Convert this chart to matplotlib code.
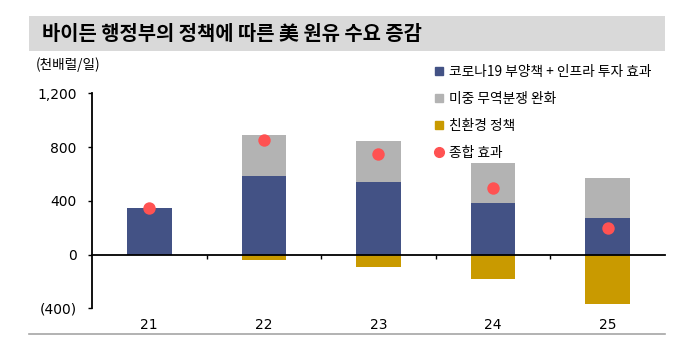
import numpy as np
import matplotlib
matplotlib.use("Agg")
import matplotlib.pyplot as plt
from matplotlib.patches import Patch, Rectangle
from matplotlib.lines import Line2D
from matplotlib.ticker import FuncFormatter, FixedLocator

plt.rcParams['font.family'] = ['Noto Sans CJK KR', 'DejaVu Sans']

# data (천배럴/일)
years = ['21', '22', '23', '24', '25']
stimulus = [345, 585, 540, 380, 270]      # 코로나19 부양책 + 인프라 투자 효과
trade = [0, 305, 305, 300, 300]           # 미중 무역분쟁 완화
green = [0, -40, -95, -185, -370]         # 친환경 정책
total = [s + t + g for s, t, g in zip(stimulus, trade, green)]  # 종합 효과

labels = ['코로나19 부양책 + 인프라 투자 효과', '미중 무역분쟁 완화', '친환경 정책', '종합 효과']
c_blue = '#435285'
c_gray = '#b3b3b3'
c_gold = '#c99a00'
c_red = '#ff5252'

fig = plt.figure(figsize=(6.97, 3.38), dpi=100)

# title band
fig.patches.append(Rectangle((0.0416, 0.849), 0.912, 0.104, transform=fig.transFigure,
                             facecolor='#d9d9d9', edgecolor='none', zorder=0))
fig.text(0.060, 0.901, '바이든 행정부의 정책에 따른 美 원유 수요 증감', fontsize=14.3,
         fontweight='bold', va='center', ha='left', color='black')
fig.add_artist(Line2D([0.0416, 0.954], [0.0118, 0.0118], transform=fig.transFigure,
                      color='#a6a6a6', lw=1.2))
fig.text(0.052, 0.808, '(천배럴/일)', fontsize=9.8, va='center', ha='left')

ax = fig.add_axes([0.132, 0.0879, 0.822, 0.636])
x = np.arange(len(years))
w = 0.39
ax.bar(x, stimulus, w, color=c_blue, zorder=2)
ax.bar(x, trade, w, bottom=stimulus, color=c_gray, zorder=2)
ax.bar(x, green, w, color=c_gold, zorder=2)
ax.scatter(x, total, s=80, color=c_red, zorder=3, linewidths=0)

ax.set_xlim(-0.5, len(years) - 0.5)
ax.set_ylim(-400, 1200)
ax.yaxis.set_major_locator(FixedLocator([-400, 0, 400, 800, 1200]))
ax.yaxis.set_major_formatter(FuncFormatter(
    lambda v, p: f'({abs(v):,.0f})' if v < 0 else f'{v:,.0f}'))
for t in ax.get_yticklabels():
    t.set_family('DejaVu Sans')
ax.tick_params(axis='y', direction='out', length=3, width=1, labelsize=10, pad=8)

ax.spines['top'].set_visible(False)
ax.spines['right'].set_visible(False)
ax.spines['bottom'].set_position(('data', 0))
ax.spines['bottom'].set_linewidth(1.3)
ax.spines['left'].set_linewidth(1.3)
ax.set_xticks([])
ax.set_xticks(x[:-1] + 0.5, minor=True)
ax.tick_params(axis='x', which='minor', direction='out', length=3, width=1)
for xi, lab in zip(x, years):
    ax.text(xi, -0.078, lab, transform=ax.get_xaxis_transform(), ha='center', va='center',
            fontsize=10, family='DejaVu Sans')

handles = [Patch(color=c_blue), Patch(color=c_gray), Patch(color=c_gold),
           Line2D([], [], marker='o', color=c_red, lw=0, markersize=7)]
fig.legend(handles, labels, loc='upper left', bbox_to_anchor=(0.624, 0.808), frameon=False,
           fontsize=9.9, handlelength=0.6, handleheight=0.6, handletextpad=0.4,
           labelspacing=0.94, borderpad=0, borderaxespad=0)

fig.savefig('out.png', dpi=100)
